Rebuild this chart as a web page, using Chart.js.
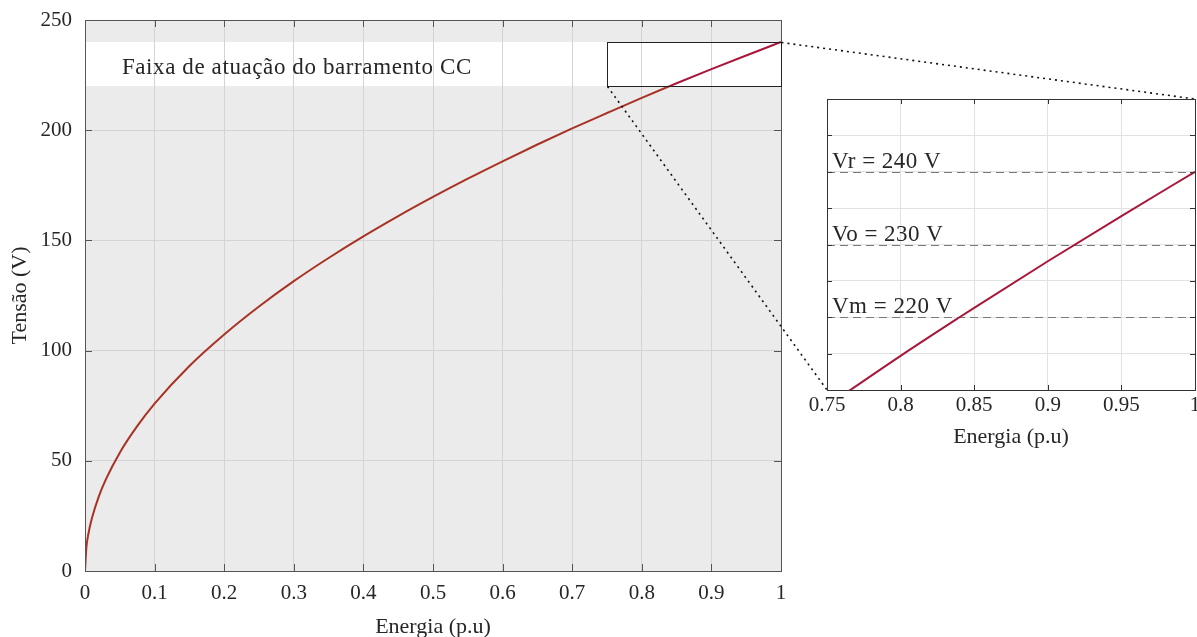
<!DOCTYPE html>
<html>
<head>
<meta charset="utf-8">
<script src="https://cdn.jsdelivr.net/npm/chart.js@4.4.1/dist/chart.umd.min.js"></script>
<style>
  html, body { margin: 0; padding: 0; background: #fff; }
  #wrap { position: relative; width: 1197px; height: 637px; overflow: hidden; }
  #mainChart { position: absolute; left: 0; top: 0; }
  #zoomChart { position: absolute; left: 790px; top: 80px; }
</style>
</head>
<body>
<div id="wrap">
  <canvas id="mainChart" width="1197" height="637"></canvas>
  <canvas id="zoomChart" width="407" height="380"></canvas>
</div>
<script>
// Curva tensão x energia (p.u)
const energia = [0, 0.002, 0.005, 0.01, 0.02, 0.03, 0.05, 0.075, 0.1, 0.15, 0.2, 0.25, 0.3, 0.35, 0.4,
                 0.45, 0.5, 0.55, 0.6, 0.65, 0.7, 0.75, 0.8, 0.84, 0.85, 0.9, 0.95, 1.0];
const tensao  = [0, 10.7, 17, 24, 34, 41.6, 53.7, 65.7, 75.9, 93, 107.3, 120, 131.5, 142, 151.8,
                 161, 169.7, 178, 185.9, 193.5, 200.8, 207.8, 214.7, 220, 221.3, 227.7, 233.9, 240];

// Faixa de atuação do barramento CC
const faixaMin = 220;
const faixaMax = 240;
const faixaTexto = "Faixa de atuação do barramento CC";

// Níveis de referência (zoom)
const niveis = [240, 230, 220];
const niveisTexto = ["Vr = 240 V", "Vo = 230 V", "Vm = 220 V"];

// Limites dos eixos [min, max, passo]
const xMain = [0, 1, 0.1];
const yMain = [0, 250, 50];
const xZoom = [0.75, 1, 0.05];
const yZoom = [210, 250, 5];

const FONT = "'Liberation Serif', 'Times New Roman', serif";
const TXT = "#262626";
const BRICK = "#a83224";
const CRIMSON = "#a8163a";

const pontos = energia.map((e, i) => ({ x: e, y: tensao[i] }));

// rótulos sem zeros à direita (0.8, 1)
const fmt = v => String(Number(v.toFixed(2)));

// ticks para dentro + caixa em volta
function drawBoxTicks(chart, len, boxColor) {
  const { ctx, chartArea: a, scales } = chart;
  ctx.save();
  ctx.strokeStyle = boxColor;
  ctx.lineWidth = 1;
  ctx.beginPath();
  scales.x.ticks.forEach((t, i) => {
    const px = Math.round(scales.x.getPixelForTick(i)) + 0.5;
    ctx.moveTo(px, a.bottom); ctx.lineTo(px, a.bottom - len);
    ctx.moveTo(px, a.top); ctx.lineTo(px, a.top + len);
  });
  scales.y.ticks.forEach((t, i) => {
    const py = Math.round(scales.y.getPixelForTick(i)) + 0.5;
    ctx.moveTo(a.left, py); ctx.lineTo(a.left + len, py);
    ctx.moveTo(a.right, py); ctx.lineTo(a.right - len, py);
  });
  ctx.stroke();
  ctx.strokeRect(Math.round(a.left) + 0.5, Math.round(a.top) + 0.5,
                 Math.round(a.right - a.left), Math.round(a.bottom - a.top));
  ctx.restore();
}

// ---- gráfico do zoom ----
const zoomPlugin = {
  id: "zoomDeco",
  beforeDraw(chart) {
    const { ctx, chartArea: a } = chart;
    ctx.save();
    ctx.fillStyle = "#fff";
    ctx.fillRect(a.left, a.top, a.right - a.left, a.bottom - a.top);
    ctx.restore();
  },
  beforeDatasetsDraw(chart) {
    const { ctx, chartArea: a, scales } = chart;
    ctx.save();
    ctx.strokeStyle = "#7a7a7a";
    ctx.lineWidth = 1.2;
    ctx.setLineDash([8, 5]);
    ctx.font = "23px " + FONT;
    ctx.letterSpacing = "0.5px";
    ctx.fillStyle = TXT;
    ctx.textBaseline = "alphabetic";
    niveis.forEach((v, i) => {
      const py = Math.round(scales.y.getPixelForValue(v)) + 0.5;
      ctx.beginPath();
      ctx.moveTo(a.left, py); ctx.lineTo(a.right, py);
      ctx.stroke();
      ctx.fillText(niveisTexto[i], a.left + 5, py - 5);
    });
    ctx.restore();
  },
  afterDraw(chart) { drawBoxTicks(chart, 5, "#333"); }
};

const zoomChart = new Chart(document.getElementById("zoomChart"), {
  type: "line",
  data: {
    datasets: [{
      data: pontos,
      borderColor: CRIMSON,
      borderWidth: 2,
      pointRadius: 0,
      cubicInterpolationMode: "monotone",
      fill: false
    }]
  },
  options: {
    responsive: false,
    animation: false,
    layout: { padding: { left: 0, top: 19, right: 2, bottom: 0 } },
    plugins: { legend: { display: false }, tooltip: { enabled: false } },
    scales: {
      x: {
        type: "linear", min: xZoom[0], max: xZoom[1],
        ticks: { stepSize: xZoom[2], color: TXT, font: { family: FONT, size: 21 }, padding: 3, maxRotation: 0, callback: fmt },
        grid: { color: "#e2e2e2", drawTicks: false },
        border: { display: false },
        title: { display: true, text: "Energia (p.u)", color: TXT, font: { family: FONT, size: 22, lineHeight: 1 }, padding: { top: 0, bottom: 12 } },
        afterFit(s) { s.height = 70; s.paddingLeft = 0; s.paddingRight = 0; }
      },
      y: {
        min: yZoom[0], max: yZoom[1],
        ticks: { stepSize: yZoom[2], callback: () => "" },
        grid: { color: "#e2e2e2", drawTicks: false },
        border: { display: false },
        afterFit(s) { s.width = 37; s.paddingTop = 0; s.paddingBottom = 0; }
      }
    }
  },
  plugins: [zoomPlugin]
});

// ---- gráfico principal ----
const mainPlugin = {
  id: "mainDeco",
  beforeDraw(chart) {
    const { ctx, chartArea: a, scales } = chart;
    ctx.save();
    ctx.fillStyle = "#ebebeb";
    ctx.fillRect(a.left, a.top, a.right - a.left, a.bottom - a.top);
    const yTop = scales.y.getPixelForValue(faixaMax);
    const yBot = scales.y.getPixelForValue(faixaMin);
    ctx.fillStyle = "#fff";
    ctx.fillRect(a.left, yTop, a.right - a.left, yBot - yTop);
    ctx.restore();
  },
  beforeDatasetsDraw(chart) {
    const { ctx, scales } = chart;
    ctx.save();
    ctx.font = "23px " + FONT;
    ctx.letterSpacing = "0.6px";
    ctx.fillStyle = TXT;
    ctx.textBaseline = "middle";
    ctx.fillText(faixaTexto, scales.x.getPixelForValue(0.053), scales.y.getPixelForValue((faixaMin + faixaMax) / 2) + 4);
    ctx.restore();
  },
  afterDraw(chart) {
    const { ctx, scales } = chart;
    drawBoxTicks(chart, 7, "#555");
    // retângulo da região ampliada
    const x0 = Math.round(scales.x.getPixelForValue(xZoom[0])) + 0.5;
    const x1 = Math.round(scales.x.getPixelForValue(xZoom[1])) + 0.5;
    const y0 = Math.round(scales.y.getPixelForValue(faixaMax)) + 0.5;
    const y1 = Math.round(scales.y.getPixelForValue(faixaMin)) + 0.5;
    ctx.save();
    ctx.strokeStyle = "#222";
    ctx.lineWidth = 1;
    ctx.strokeRect(x0, y0, x1 - x0, y1 - y0);
    // linhas pontilhadas até o zoom
    const za = zoomChart.chartArea;
    const zl = 790, zt = 80;
    ctx.strokeStyle = "#111";
    ctx.lineWidth = 1.6;
    ctx.setLineDash([2, 4]);
    ctx.beginPath();
    ctx.moveTo(x1, y0); ctx.lineTo(zl + za.right, zt + za.top);
    ctx.moveTo(x0, y1); ctx.lineTo(zl + za.left, zt + za.bottom);
    ctx.stroke();
    ctx.restore();
  }
};

new Chart(document.getElementById("mainChart"), {
  type: "line",
  data: {
    datasets: [{
      data: pontos,
      borderColor: BRICK,
      borderWidth: 2,
      pointRadius: 0,
      cubicInterpolationMode: "monotone",
      fill: false,
      segment: {
        borderColor: c => (c.p0.parsed.y >= faixaMin ? CRIMSON : BRICK)
      }
    }]
  },
  options: {
    responsive: false,
    animation: false,
    layout: { padding: { left: 0, top: 20, right: 416, bottom: 0 } },
    plugins: { legend: { display: false }, tooltip: { enabled: false } },
    scales: {
      x: {
        type: "linear", min: xMain[0], max: xMain[1],
        ticks: { stepSize: xMain[2], color: TXT, font: { family: FONT, size: 21 }, padding: 10, maxRotation: 0, callback: fmt },
        grid: { color: "#d4d4d4", drawTicks: false },
        border: { display: false },
        title: { display: true, text: "Energia (p.u)", color: TXT, font: { family: FONT, size: 22, lineHeight: 1 }, padding: { top: 0, bottom: -1 } },
        afterFit(s) { s.height = 66; s.paddingLeft = 0; s.paddingRight = 0; }
      },
      y: {
        min: yMain[0], max: yMain[1],
        ticks: { stepSize: yMain[2], color: TXT, font: { family: FONT, size: 21 }, padding: 13 },
        grid: { color: "#d4d4d4", drawTicks: false },
        border: { display: false },
        title: { display: true, text: "Tensão (V)", color: TXT, font: { family: FONT, size: 22, lineHeight: 1 }, padding: { top: 9, bottom: 0 } },
        afterFit(s) { s.width = 85; s.paddingTop = 0; s.paddingBottom = 0; }
      }
    }
  },
  plugins: [mainPlugin]
});
</script>
</body>
</html>
